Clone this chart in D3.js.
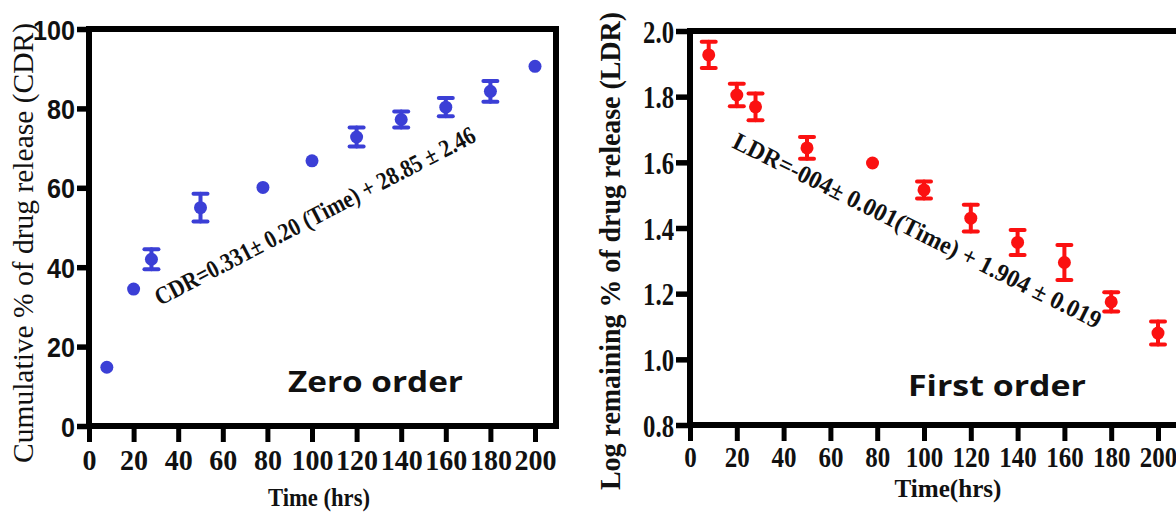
<!DOCTYPE html>
<html>
<head>
<meta charset="utf-8">
<script src="https://cdn.jsdelivr.net/npm/d3@7"></script>
<style>
  html, body { margin: 0; padding: 0; background: #ffffff; }
  svg { display: block; }
</style>
</head>
<body>
<svg id="chart" width="1176" height="513"></svg>
<script>
// ---- data ----
const timeHours = [8, 20, 28, 50, 78, 100, 120, 140, 160, 180, 200];
const cdrMean   = [14.8, 34.5, 42.0, 55.0, 60.1, 66.8, 72.8, 77.2, 80.3, 84.3, 90.6];
const cdrSD     = [0, 0, 2.5, 3.5, 0, 0, 2.4, 2.0, 2.3, 2.6, 0];
const ldrMean   = [1.927, 1.805, 1.769, 1.644, 1.598, 1.516, 1.430, 1.356, 1.295, 1.175, 1.080];
const ldrSD     = [0.040, 0.034, 0.041, 0.033, 0, 0.026, 0.041, 0.038, 0.053, 0.029, 0.035];

const xTicks      = [0, 20, 40, 60, 80, 100, 120, 140, 160, 180, 200];
const cdrTicks    = [0, 20, 40, 60, 80, 100];
const ldrTicks    = [0.8, 1.0, 1.2, 1.4, 1.6, 1.8, 2.0];

const cdrYTitle = "Cumulative % of drug release (CDR)";
const ldrYTitle = "Log remaining % of drug release (LDR)";
const cdrXTitle = "Time (hrs)";
const ldrXTitle = "Time(hrs)";
const cdrLabel  = "Zero order";
const ldrLabel  = "First order";
const cdrEquation = "CDR=0.331\u00b1 0.20 (Time) + 28.85 \u00b1 2.46";
const ldrEquation = "LDR=-004\u00b1 0.001(Time) + 1.904 \u00b1 0.019";

const BLUE = "#3b3fd6";
const RED  = "#fb1111";
const SERIF = "'Liberation Serif', 'Times New Roman', serif";
const SANS  = "'Liberation Sans', Arial, sans-serif";
const LABEL_SANS = "'Open Sans', 'Noto Sans', sans-serif";

const svg = d3.select("#chart");

function panel(cfg) {
  const g = svg.append("g");
  const x = d3.scaleLinear().domain([0, 200]).range(cfg.xRange);
  const y = d3.scaleLinear().domain(cfg.yDomain).range(cfg.yRange);

  // y axis
  const yAxis = d3.axisLeft(y).tickValues(cfg.yTicks).tickFormat(cfg.yFormat)
    .tickSize(cfg.yTickLen).tickPadding(2);
  const gy = g.append("g").attr("transform", `translate(${cfg.xRange[0]},0)`).call(yAxis);
  gy.select(".domain").remove();
  gy.selectAll(".tick line").attr("stroke", "#000").attr("stroke-width", 5.5);
  gy.selectAll(".tick text")
    .attr("fill", "#111")
    .style("font-family", cfg.yFont)
    .style("font-weight", "bold")
    .style("font-size", cfg.yFontSize + "px")
    .attr("dy", "0.36em")
    .attr("textLength", d => cfg.yFormat(d).length * cfg.yCharW)
    .attr("lengthAdjust", "spacingAndGlyphs");

  // x axis
  const xAxis = d3.axisBottom(x).tickValues(xTicks).tickFormat(d3.format("d"))
    .tickSize(16).tickPadding(cfg.xPad);
  const gx = g.append("g").attr("transform", `translate(0,${cfg.yRange[0]})`).call(xAxis);
  gx.select(".domain").remove();
  gx.selectAll(".tick line").attr("stroke", "#000").attr("stroke-width", 5);
  gx.selectAll(".tick text")
    .attr("fill", "#111")
    .style("font-family", SERIF)
    .style("font-weight", "bold")
    .style("font-size", "30px")
    .attr("textLength", d => String(d).length * cfg.xCharW)
    .attr("lengthAdjust", "spacingAndGlyphs");

  // frame
  const L = cfg.xRange[0], T = cfg.yRange[1], B = cfg.yRange[0], R = cfg.frameRight;
  g.append("path")
    .attr("d", `M${R},${T}L${L},${T}L${L},${B}L${R},${B}` + (cfg.closeRight ? "Z" : ""))
    .attr("fill", "none").attr("stroke", "#000").attr("stroke-width", 6)
    .attr("stroke-linejoin", "miter");

  // error bars
  const pts = timeHours.map((t, i) => ({ t, m: cfg.mean[i], s: cfg.sd[i] }));
  const eb = g.append("g").attr("stroke", cfg.color).attr("stroke-width", 4).attr("stroke-linecap", "round");
  pts.filter(d => d.s > 0).forEach(d => {
    const cx = x(d.t), y1 = y(d.m - d.s), y2 = y(d.m + d.s);
    eb.append("line").attr("x1", cx).attr("x2", cx).attr("y1", y1).attr("y2", y2);
    eb.append("line").attr("x1", cx - 7).attr("x2", cx + 7).attr("y1", y1).attr("y2", y1);
    eb.append("line").attr("x1", cx - 7).attr("x2", cx + 7).attr("y1", y2).attr("y2", y2);
  });
  // markers
  g.append("g").selectAll("circle").data(pts).join("circle")
    .attr("cx", d => x(d.t)).attr("cy", d => y(d.m)).attr("r", 6.5)
    .attr("fill", cfg.color);

  // titles
  g.append("text")
    .attr("transform", `translate(${cfg.yTitlePos[0]},${cfg.yTitlePos[1]}) rotate(-90)`)
    .attr("text-anchor", "middle")
    .attr("textLength", cfg.yTitleLen).attr("lengthAdjust", "spacingAndGlyphs")
    .style("font-family", SERIF).style("font-weight", cfg.yTitleWeight)
    .style("font-size", "29px").attr("fill", "#111")
    .text(cfg.yTitle);

  g.append("text")
    .attr("x", cfg.xTitlePos[0]).attr("y", cfg.xTitlePos[1])
    .attr("text-anchor", "middle")
    .attr("textLength", cfg.xTitleLen).attr("lengthAdjust", "spacingAndGlyphs")
    .style("font-family", SERIF).style("font-weight", "bold")
    .style("font-size", "25px").attr("fill", "#111")
    .text(cfg.xTitle);

  g.append("text")
    .attr("x", cfg.labelPos[0]).attr("y", cfg.labelPos[1])
    .attr("textLength", cfg.labelLen).attr("lengthAdjust", "spacingAndGlyphs")
    .style("font-family", LABEL_SANS).style("font-weight", "bold")
    .style("font-size", cfg.labelSize + "px").attr("fill", "#111")
    .text(cfg.label);

  g.append("text")
    .attr("transform", `translate(${cfg.eqPos[0]},${cfg.eqPos[1]}) rotate(${cfg.eqAngle})`)
    .attr("textLength", cfg.eqLen).attr("lengthAdjust", "spacingAndGlyphs")
    .style("font-family", SERIF).style("font-weight", "bold")
    .style("font-size", "25px").attr("fill", "#111")
    .text(cfg.eq);
}

panel({
  xRange: [89, 535], yDomain: [0, 100], yRange: [426, 29], frameRight: 556, closeRight: true,
  yTicks: cdrTicks, yFormat: d3.format("d"), yFont: SANS, yFontSize: 28, yCharW: 14, yTickLen: 12,
  xCharW: 14, xPad: 7,
  mean: cdrMean, sd: cdrSD, color: BLUE,
  yTitle: cdrYTitle, yTitlePos: [33, 243], yTitleLen: 440, yTitleWeight: "normal",
  xTitle: cdrXTitle, xTitlePos: [319, 506], xTitleLen: 102,
  label: cdrLabel, labelPos: [288, 392], labelLen: 175, labelSize: 28,
  eq: cdrEquation, eqPos: [160, 306], eqAngle: -27.5, eqLen: 358
});

panel({
  xRange: [690, 1158], yDomain: [0.8, 2.0], yRange: [425, 31], frameRight: 1190, closeRight: false,
  yTicks: ldrTicks, yFormat: d3.format(".1f"), yFont: SERIF, yFontSize: 31, yCharW: 10.3, yTickLen: 14,
  xCharW: 12.5, xPad: 5,
  mean: ldrMean, sd: ldrSD, color: RED,
  yTitle: ldrYTitle, yTitlePos: [620, 251], yTitleLen: 478, yTitleWeight: "bold",
  xTitle: ldrXTitle, xTitlePos: [948, 497], xTitleLen: 107,
  label: ldrLabel, labelPos: [908, 396], labelLen: 178, labelSize: 29,
  eq: ldrEquation, eqPos: [731, 147], eqAngle: 26.5, eqLen: 408
});
</script>
</body>
</html>
